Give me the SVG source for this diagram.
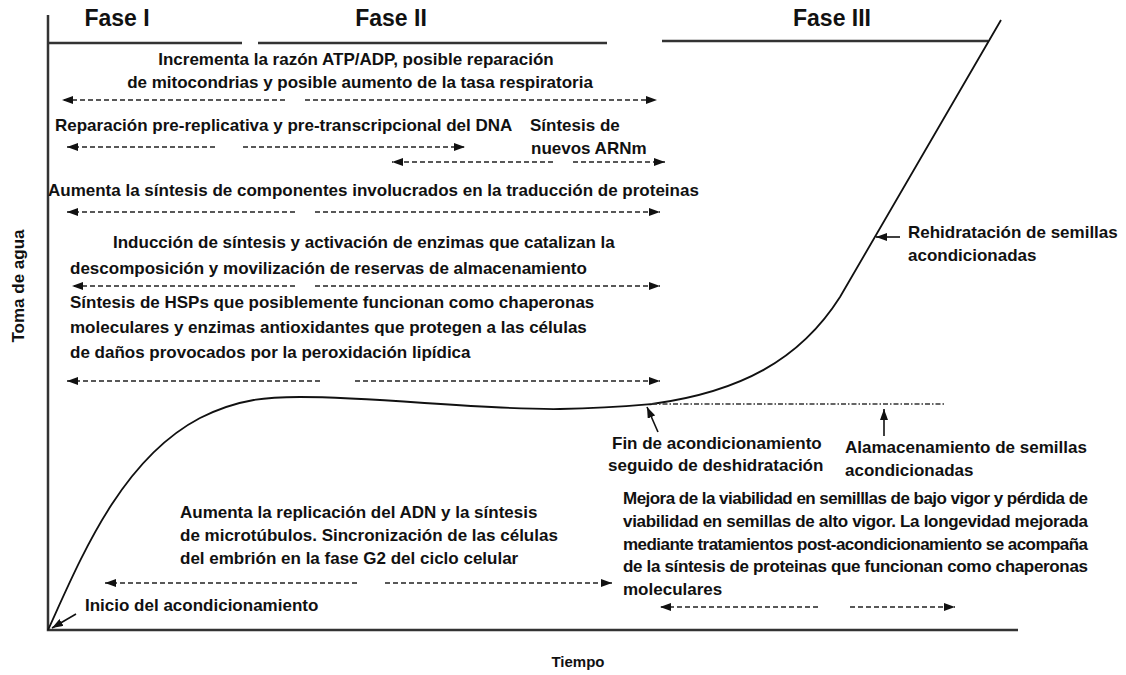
<svg xmlns="http://www.w3.org/2000/svg" width="1126" height="675" viewBox="0 0 1126 675">
<defs>
<style>
text{font-family:"Liberation Sans",Arial,sans-serif;font-weight:bold;font-size:17px;fill:#111}
.ph{font-size:23px}
.ax{fill:none;stroke:#333;stroke-width:2.5}
.dl{fill:none;stroke:#222;stroke-width:1.7;stroke-dasharray:5 3}
.sl{fill:none;stroke:#111;stroke-width:1.6}
</style>
<marker id="ah" viewBox="0 0 11 8" refX="11" refY="4" markerWidth="11" markerHeight="8" markerUnits="userSpaceOnUse" orient="auto">
<path d="M0,0 L11,4 L0,8 Z" fill="#111"/>
</marker>
</defs>
<rect width="1126" height="675" fill="#fff"/>
<g id="axes">
<path class="ax" d="M48,15 V630 H1018"/>
<path class="ax" d="M48,43 H242 M258,43 H607 M662,41 H988"/>
<path fill="none" stroke="#111" stroke-width="1.8" d="M48,630 C80,560 120,460 200,418 C240,398 270,397 300,397 C380,397 480,410 560,409 C610,408 640,405 652,404 C740,392 800,360 840,297 L1001,20"/>
</g>
<g id="labels">
<text class="ph" x="117" y="26" text-anchor="middle">Fase I</text>
<text class="ph" x="391" y="26" text-anchor="middle">Fase II</text>
<text class="ph" x="832" y="26" text-anchor="middle">Fase III</text>
<text x="24" y="286" text-anchor="middle" transform="rotate(-90 24 286)">Toma de agua</text>
<text x="578" y="667" text-anchor="middle" style="font-size:15px">Tiempo</text>
</g>
<g id="n1"><text x="356" y="65" text-anchor="middle">Incrementa la razón ATP/ADP, posible reparación</text><text x="360" y="88" text-anchor="middle">de mitocondrias y posible aumento de la tasa respiratoria</text></g>
<g id="n2"><text x="55" y="131">Reparación pre-replicativa y pre-transcripcional del DNA</text></g>
<g id="n3"><text x="530" y="131">Síntesis de</text><text x="531" y="154">nuevos ARNm</text></g>
<g id="n4"><text x="48" y="196">Aumenta la síntesis de componentes involucrados en la traducción de proteinas</text></g>
<g id="n5"><text x="113" y="248">Inducción de síntesis y activación de enzimas que catalizan la</text><text x="70" y="274">descomposición y movilización de reservas de almacenamiento</text></g>
<g id="n6"><text x="70" y="308">Síntesis de HSPs que posiblemente funcionan como chaperonas</text><text x="70" y="333">moleculares y enzimas antioxidantes que protegen a las células</text><text x="70" y="358">de daños provocados por la peroxidación lipídica</text></g>
<g id="n7"><text x="908" y="238">Rehidratación de semillas</text><text x="908" y="261">acondicionadas</text></g>
<g id="n8"><text x="612" y="449">Fin de acondicionamiento</text><text x="608" y="471">seguido de deshidratación</text></g>
<g id="n9"><text x="845" y="453">Alamacenamiento de semillas</text><text x="845" y="476">acondicionadas</text></g>
<g id="n10"><text x="623" y="504" textLength="465" lengthAdjust="spacing">Mejora de la viabilidad en semilllas de bajo vigor y pérdida de</text><text x="623" y="527" textLength="465" lengthAdjust="spacing">viabilidad en semillas de alto vigor. La longevidad mejorada</text><text x="623" y="550" textLength="465" lengthAdjust="spacing">mediante tratamientos post-acondicionamiento se acompaña</text><text x="623" y="572" textLength="465" lengthAdjust="spacing">de la síntesis de proteinas que funcionan como chaperonas</text><text x="623" y="595">moleculares</text></g>
<g id="n11"><text x="180" y="518">Aumenta la replicación del ADN y la síntesis</text><text x="180" y="541">de microtúbulos. Sincronización de las células</text><text x="180" y="564">del embrión en la fase G2 del ciclo celular</text></g>
<g id="n12"><text x="85" y="611">Inicio del acondicionamiento</text></g>
<g id="connectors">
<path class="dl" marker-end="url(#ah)" d="M285,100 H62"/>
<path class="dl" marker-end="url(#ah)" d="M305,100 H657"/>
<path class="dl" marker-end="url(#ah)" d="M215,147 H67"/>
<path class="dl" marker-end="url(#ah)" d="M243,147 H465"/>
<path class="dl" marker-end="url(#ah)" d="M553,162 H392"/>
<path class="dl" marker-end="url(#ah)" d="M573,162 H665"/>
<path class="dl" marker-end="url(#ah)" d="M295,212 H67"/>
<path class="dl" marker-end="url(#ah)" d="M315,212 H660"/>
<path class="dl" marker-end="url(#ah)" d="M295,286 H72"/>
<path class="dl" marker-end="url(#ah)" d="M315,286 H660"/>
<path class="dl" marker-end="url(#ah)" d="M320,381 H67"/>
<path class="dl" marker-end="url(#ah)" d="M355,381 H660"/>
<path class="dl" marker-end="url(#ah)" d="M357,583 H105"/>
<path class="dl" marker-end="url(#ah)" d="M385,583 H612"/>
<path class="dl" marker-end="url(#ah)" d="M818,607 H660"/>
<path class="dl" marker-end="url(#ah)" d="M850,607 H955"/>
<path fill="none" stroke="#333" stroke-width="1.4" stroke-dasharray="5 2 1.5 2" d="M652,404 H945"/>
<path class="sl" marker-end="url(#ah)" d="M900,237 H876"/>
<path class="sl" marker-end="url(#ah)" d="M658,432 L647,407"/>
<path class="sl" marker-end="url(#ah)" d="M884,436 V409"/>
<path class="sl" marker-end="url(#ah)" d="M76,614 L52,628"/>
</g>
</svg>
